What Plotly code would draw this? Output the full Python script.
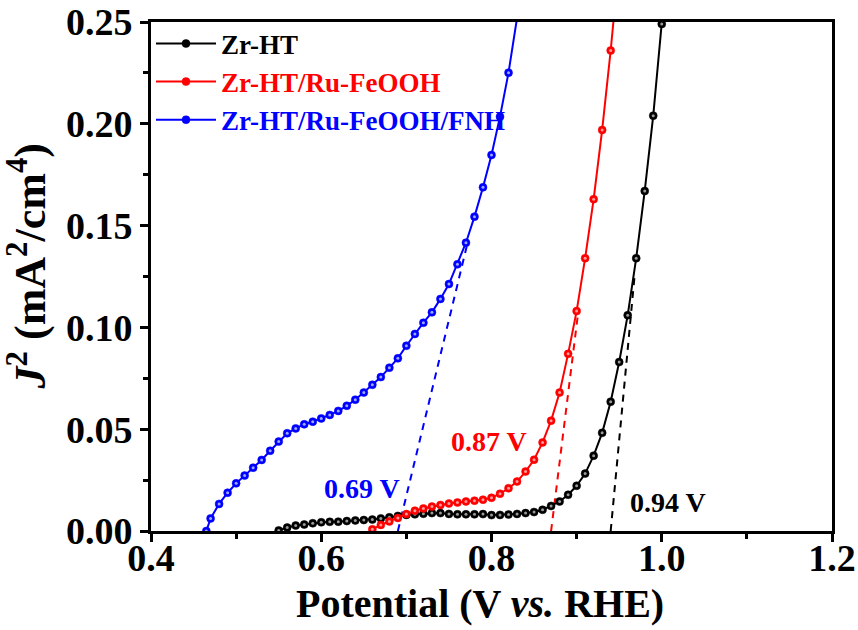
import plotly.graph_objects as go

# Potential (V vs. RHE) and squared current density J^2 (mA^2/cm^4)
zr_ht_v = [0.55, 0.56, 0.57, 0.58, 0.59, 0.60, 0.61, 0.62, 0.63, 0.64, 0.65, 0.66,
           0.67, 0.68, 0.69, 0.70, 0.71, 0.72, 0.73, 0.74, 0.75, 0.76, 0.77, 0.78,
           0.79, 0.80, 0.81, 0.82, 0.83, 0.84, 0.85, 0.86, 0.87, 0.88, 0.89, 0.90,
           0.91, 0.92, 0.93, 0.94, 0.95, 0.96, 0.97, 0.98, 0.99, 1.00, 1.01]
zr_ht_j = [0.0003, 0.0017, 0.0027, 0.0032, 0.0038, 0.0043, 0.0045, 0.0046, 0.0049,
           0.0052, 0.0054, 0.0056, 0.0062, 0.0067, 0.0074, 0.0079, 0.0082, 0.0085,
           0.0088, 0.0088, 0.0084, 0.0082, 0.0082, 0.0082, 0.0083, 0.0078, 0.0079,
           0.0081, 0.0084, 0.0088, 0.0093, 0.0104, 0.0123, 0.0145, 0.0178, 0.0222,
           0.0282, 0.0370, 0.0482, 0.0635, 0.0830, 0.1060, 0.1340, 0.1670, 0.2040,
           0.2490, 0.2950]

ru_feooh_v = [0.66, 0.67, 0.68, 0.69, 0.70, 0.71, 0.72, 0.73, 0.74, 0.75, 0.76, 0.77,
              0.78, 0.79, 0.80, 0.81, 0.82, 0.83, 0.84, 0.85, 0.86, 0.87, 0.88, 0.89,
              0.90, 0.91, 0.92, 0.93, 0.94, 0.95]
ru_feooh_j = [0.0008, 0.0030, 0.0047, 0.0064, 0.0083, 0.0100, 0.0111, 0.0120, 0.0128,
              0.0135, 0.0140, 0.0145, 0.0149, 0.0154, 0.0163, 0.0183, 0.0210, 0.0243,
              0.0292, 0.0350, 0.0435, 0.0542, 0.0680, 0.0870, 0.1080, 0.1340, 0.1630,
              0.1970, 0.2360, 0.2800]

fnh_v = [0.465, 0.47, 0.48, 0.49, 0.50, 0.51, 0.52, 0.53, 0.54, 0.55, 0.56, 0.57, 0.58,
         0.59, 0.60, 0.61, 0.62, 0.63, 0.64, 0.65, 0.66, 0.67, 0.68, 0.69, 0.70, 0.71,
         0.72, 0.73, 0.74, 0.75, 0.76, 0.77, 0.78, 0.79, 0.80, 0.81, 0.82, 0.83]
fnh_j = [0.0000, 0.0062, 0.0133, 0.0188, 0.0234, 0.0272, 0.0311, 0.0349, 0.0394, 0.0439,
         0.0480, 0.0504, 0.0524, 0.0537, 0.0553, 0.0570, 0.0590, 0.0615, 0.0645, 0.0680,
         0.0718, 0.0756, 0.0802, 0.0848, 0.0910, 0.0968, 0.1023, 0.1074, 0.1140, 0.1213,
         0.1310, 0.1416, 0.1544, 0.1688, 0.1847, 0.2035, 0.2251, 0.2520]

series_names = ["Zr-HT", "Zr-HT/Ru-FeOOH", "Zr-HT/Ru-FeOOH/FNH"]
series_colors = ["#000000", "#ff0000", "#0000ff"]
marker_centers = ["#9a9a9a", "#ff9c9c", "#9ca8ff"]

# Onset potentials from the linear extrapolation, and where each tangent ends
onset_v = [0.94, 0.87, 0.69]
onset_labels = ["0.94 V", "0.87 V", "0.69 V"]
tangent_end_v = [0.968, 0.902, 0.771]
tangent_end_j = [0.125, 0.108, 0.140]
label_v = [1.0075, 0.797, 0.648]
label_j = [0.0138, 0.0442, 0.0211]

x_ticks = [0.4, 0.6, 0.8, 1.0, 1.2]
y_ticks = [0.00, 0.05, 0.10, 0.15, 0.20, 0.25]

x_title = "Potential (V <i>vs.</i> RHE)"
y_title = "<i>J</i><sup>2</sup> (mA<sup>2</sup>/cm<sup>4</sup>)"

FONT = "Liberation Serif"

fig = go.Figure()

curves = [(zr_ht_v, zr_ht_j), (ru_feooh_v, ru_feooh_j), (fnh_v, fnh_j)]

# Tangent (dashed) lines drawn beneath the curves
for k in range(3):
    fig.add_trace(go.Scatter(
        x=[onset_v[k], tangent_end_v[k]], y=[0.0, tangent_end_j[k]],
        mode="lines", line=dict(color=series_colors[k], width=2, dash="7px,6px"),
        showlegend=False, hoverinfo="skip"))

for k, (vx, jy) in enumerate(curves):
    fig.add_trace(go.Scatter(
        x=vx, y=jy, mode="lines+markers",
        name=f"<span style='color:{series_colors[k]}'>{series_names[k]}</span>",
        line=dict(color=series_colors[k], width=2),
        marker=dict(symbol="circle", size=8, color=series_colors[k],
                    line=dict(color=series_colors[k], width=0.5))))
    # light centre on each sphere-like marker
    fig.add_trace(go.Scatter(
        x=vx, y=jy, mode="markers",
        marker=dict(symbol="circle", size=3, color=marker_centers[k]),
        showlegend=False, hoverinfo="skip"))

for k in range(3):
    fig.add_annotation(
        x=label_v[k], y=label_j[k], text=onset_labels[k],
        showarrow=False,
        font=dict(family=FONT, size=28, color=series_colors[k], weight="bold"),
        xanchor="center", yanchor="middle")

# Axis titles placed as paper-anchored text
fig.add_annotation(
    xref="paper", yref="paper", x=0.483, y=-0.1415, text=x_title, showarrow=False,
    xanchor="center", yanchor="middle",
    font=dict(family=FONT, size=40, color="black", weight="bold"))
fig.add_annotation(
    xref="paper", yref="paper", x=-0.182, y=0.52, text=y_title, showarrow=False,
    textangle=-90, xanchor="center", yanchor="middle",
    font=dict(family=FONT, size=44, color="black", weight="bold"))

axis_common = dict(
    showline=True, linecolor="black", linewidth=3, mirror=True,
    ticks="outside", ticklen=8, tickwidth=2.5, tickcolor="black",
    showgrid=False, zeroline=False, automargin=False,
    ticklabeloverflow="allow",
    tickfont=dict(family=FONT, size=38, color="black", weight="bold"),
)

fig.update_xaxes(
    range=[0.4, 1.2], tickvals=x_ticks, ticktext=[f"{v:.1f}" for v in x_ticks],
    ticklabelstandoff=-17,
    minor=dict(dtick=0.1, tick0=0.4, ticks="outside", ticklen=5, tickwidth=2.5,
               tickcolor="black", showgrid=False),
    **axis_common)

fig.update_yaxes(
    range=[0.0, 0.25], tickvals=y_ticks, ticktext=[f"{v:.2f}" for v in y_ticks],
    minor=dict(dtick=0.025, tick0=0.0, ticks="outside", ticklen=5, tickwidth=2.5,
               tickcolor="black", showgrid=False),
    **axis_common)

fig.update_layout(
    width=858, height=630,
    margin=dict(l=151, r=26, t=22, b=99),
    paper_bgcolor="white", plot_bgcolor="white",
    font=dict(family=FONT, color="black"),
    legend=dict(x=0.0, y=1.005, xanchor="left", yanchor="top",
                bgcolor="rgba(0,0,0,0)", itemwidth=60, tracegroupgap=0,
                font=dict(family=FONT, size=27, weight="bold")),
)

fig.write_html("out.html")
